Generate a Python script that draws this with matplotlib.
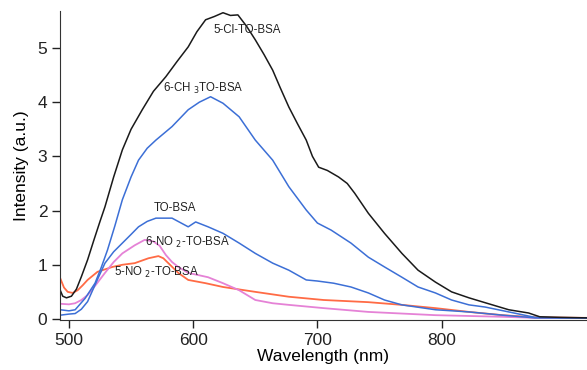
import matplotlib
matplotlib.use('Agg')
import matplotlib.pyplot as plt

plt.rcParams['font.family'] = ['Liberation Sans', 'DejaVu Sans']

cl_x = [493, 495, 498, 502, 506, 510, 515, 520, 525, 529, 536, 543, 550, 559, 568, 578, 587, 596, 603, 610,
        617, 624, 630, 636, 643, 650, 657, 664, 670, 677, 684, 691, 696, 701, 708, 717, 724, 730, 741, 754,
        768, 781, 795, 808, 822, 835, 854, 870, 879, 895, 917]
cl_y = [0.53, 0.42, 0.39, 0.42, 0.55, 0.78, 1.09, 1.45, 1.80, 2.07, 2.62, 3.12, 3.50, 3.86, 4.20, 4.47, 4.75,
        5.02, 5.30, 5.52, 5.58, 5.65, 5.60, 5.61, 5.40, 5.15, 4.88, 4.59, 4.27, 3.91, 3.60, 3.30, 3.00, 2.80,
        2.74, 2.62, 2.50, 2.32, 1.95, 1.58, 1.21, 0.90, 0.68, 0.50, 0.39, 0.30, 0.17, 0.11, 0.04, 0.03, 0.02]

ch3_x = [493, 500, 505, 513, 521, 526, 531, 537, 543, 550, 556, 563, 570, 583, 596, 605, 614, 624, 637, 650,
         664, 677, 691, 700, 711, 727, 741, 754, 768, 781, 795, 808, 822, 835, 854, 875, 895, 917]
ch3_y = [0.17, 0.15, 0.17, 0.38, 0.66, 0.95, 1.27, 1.72, 2.20, 2.62, 2.93, 3.15, 3.30, 3.55, 3.86, 4.00, 4.10,
         3.98, 3.73, 3.30, 2.93, 2.44, 2.01, 1.77, 1.64, 1.40, 1.14, 0.96, 0.77, 0.59, 0.48, 0.35, 0.26, 0.22,
         0.13, 0.03, 0.02, 0.02]

to_x = [493, 500, 505, 510, 515, 522, 529, 536, 543, 550, 556, 563, 570, 583, 596, 602, 612, 624, 637, 650,
        664, 677, 691, 700, 713, 727, 741, 754, 768, 795, 822, 849, 875, 917]
to_y = [0.07, 0.09, 0.10, 0.18, 0.32, 0.68, 1.03, 1.24, 1.40, 1.56, 1.70, 1.80, 1.86, 1.86, 1.70, 1.79, 1.70,
        1.58, 1.40, 1.21, 1.03, 0.90, 0.72, 0.70, 0.66, 0.59, 0.48, 0.35, 0.26, 0.17, 0.13, 0.07, 0.02, 0.02]

no2_6_x = [493, 500, 505, 510, 515, 522, 529, 536, 543, 553, 561, 568, 573, 578, 583, 588, 596, 612, 624, 637,
           650, 664, 677, 705, 741, 795, 849, 875, 917]
no2_6_y = [0.28, 0.27, 0.29, 0.35, 0.44, 0.64, 0.85, 1.05, 1.21, 1.36, 1.46, 1.43, 1.35, 1.18, 1.05, 0.96, 0.85,
           0.77, 0.66, 0.53, 0.35, 0.29, 0.26, 0.20, 0.13, 0.07, 0.04, 0.02, 0.02]

no2_5_x = [493, 496, 499, 503, 507, 511, 515, 523, 535, 543, 553, 564, 572, 576, 580, 588, 596, 610, 624, 650,
           677, 705, 741, 768, 795, 822, 849, 875, 917]
no2_5_y = [0.75, 0.58, 0.50, 0.48, 0.53, 0.62, 0.72, 0.87, 0.96, 1.00, 1.03, 1.12, 1.16, 1.12, 1.03, 0.85, 0.72,
           0.66, 0.59, 0.50, 0.41, 0.35, 0.31, 0.26, 0.20, 0.13, 0.07, 0.03, 0.02]

x_ticks = [500, 600, 700, 800]
y_ticks = [0, 1, 2, 3, 4, 5]

fig = plt.figure(figsize=(5.87, 3.70), dpi=100)
ax = fig.add_axes([0.102, 0.135, 0.898, 0.835])

ax.plot(no2_5_x, no2_5_y, color='#ff6b45', lw=1.3)
ax.plot(no2_6_x, no2_6_y, color='#e582d6', lw=1.3)
ax.plot(to_x, to_y, color='#3c6fd6', lw=1.1)
ax.plot(ch3_x, ch3_y, color='#3c6fd6', lw=1.1)
ax.plot(cl_x, cl_y, color='#1a1a1a', lw=1.1)

lab = dict(fontsize=8.3, color='#222222', va='center')
ax.text(616, 5.33, '5-Cl-TO-BSA', **lab)
ax.text(576, 4.26, '6-CH $_3$TO-BSA', **lab)
ax.text(568, 2.05, 'TO-BSA', **lab)
ax.text(561, 1.42, '6-NO $_2$-TO-BSA', **lab)
ax.text(536, 0.85, '5-NO $_2$-TO-BSA', **lab)

ax.set_xlim(492.7, 917)
ax.set_ylim(-0.02, 5.68)
ax.set_xticks(x_ticks)
ax.set_yticks(y_ticks)
ax.tick_params(direction='out', length=6, width=1, labelsize=12.5, colors='#222222', pad=3)
for s in ['top', 'right']:
    ax.spines[s].set_visible(False)
for s in ['left', 'bottom']:
    ax.spines[s].set_color('#333333')
ax.set_xlabel('Wavelength (nm)', fontsize=12.5, labelpad=1)
ax.set_ylabel('Intensity (a.u.)', fontsize=12.5, labelpad=6)

fig.savefig('out.png', dpi=100)
